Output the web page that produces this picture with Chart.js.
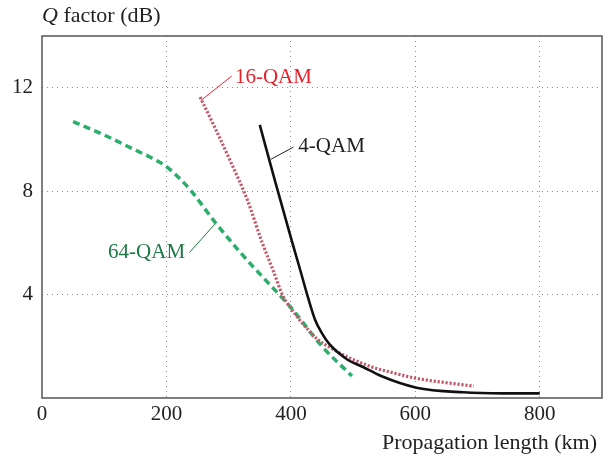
<!DOCTYPE html>
<html>
<head>
<meta charset="utf-8">
<script src="https://cdn.jsdelivr.net/npm/chart.js@4.4.1/dist/chart.umd.min.js"></script>
<style>
html,body{margin:0;padding:0;background:#fff;}
#wrap{width:612px;height:461px;}
</style>
</head>
<body>
<div id="wrap"><canvas id="c" width="612" height="461"></canvas></div>
<script>
// ---- data ----
const xTicks = [0, 200, 400, 600, 800];
const yTicks = [4, 8, 12];

const km4QAM = [350, 375, 400, 415, 427, 439, 450, 462, 490, 516, 545, 602, 677, 740, 800];
const q4QAM  = [10.56, 8.35, 6.2, 4.95, 3.93, 3.02, 2.5, 2.08, 1.5, 1.2, 0.85, 0.4, 0.22, 0.18, 0.18];

const km16QAM = [254, 278, 302, 330, 354, 372, 387, 399, 420, 444, 463, 490, 530, 560, 602, 650, 694];
const q16QAM  = [11.64, 10.45, 9.2, 7.66, 6.0, 4.9, 3.95, 3.5, 2.85, 2.24, 1.95, 1.6, 1.2, 1.0, 0.76, 0.59, 0.46];

const km64QAM = [50, 100, 150, 175, 200, 220, 240, 278, 318, 350, 385, 400, 450, 498];
const q64QAM  = [10.69, 10.17, 9.59, 9.3, 8.95, 8.52, 8.0, 6.8, 5.65, 4.8, 3.9, 3.5, 2.0, 0.85];

const seriesNames = ['4-QAM', '16-QAM', '64-QAM'];

function pts(xs, ys){ return xs.map((x,i)=>({x:x, y:ys[i]})); }

const serif = '"Liberation Serif", "Times New Roman", serif';
const FS = 21;

// annotation labels
const labels = [
  {text:'16-QAM', color:'#e8202a', tx:310, ty:12.38, align:'left',  x1:255, y1:11.5, x2:304.9, y2:12.45},
  {text:'4-QAM',  color:'#222222', tx:412, ty:9.72,  align:'left',  x1:367.6, y1:9.23, x2:404, y2:9.7},
  {text:'64-QAM', color:'#1d7a45', tx:230, ty:5.61,  align:'right', x1:278, y1:6.73, x2:236.8, y2:5.62}
];

const decor = {
  id:'decor',
  afterDraw(chart){
    const ctx = chart.ctx, a = chart.chartArea;
    const xs = chart.scales.x, ys = chart.scales.y;
    ctx.save();
    ctx.strokeStyle = '#555';
    ctx.lineWidth = 1.5;
    ctx.strokeRect(a.left, a.top, a.right - a.left, a.bottom - a.top);
    ctx.font = FS + 'px ' + serif;
    ctx.textBaseline = 'middle';
    labels.forEach(l=>{
      ctx.strokeStyle = l.color;
      ctx.lineWidth = 1;
      ctx.beginPath();
      ctx.moveTo(xs.getPixelForValue(l.x1), ys.getPixelForValue(l.y1));
      ctx.lineTo(xs.getPixelForValue(l.x2), ys.getPixelForValue(l.y2));
      ctx.stroke();
      ctx.fillStyle = l.color;
      ctx.textAlign = l.align;
      ctx.fillText(l.text, xs.getPixelForValue(l.tx), ys.getPixelForValue(l.ty));
    });
    ctx.fillStyle = '#222';
    ctx.font = '22px ' + serif;
    ctx.textAlign = 'right';
    ctx.fillText('Propagation length (km)', a.right - 5, 443);
    ctx.textAlign = 'left';
    ctx.font = 'italic 22px ' + serif;
    ctx.fillText('Q', a.left, 16);
    const w = ctx.measureText('Q').width;
    ctx.font = '22px ' + serif;
    ctx.fillText(' factor (dB)', a.left + w, 16);
    ctx.restore();
  }
};

new Chart(document.getElementById('c'), {
  type:'line',
  data:{
    datasets:[
      {label:seriesNames[0], data:pts(km4QAM,q4QAM), borderColor:'#111', borderWidth:2.6,
       pointRadius:0, cubicInterpolationMode:'monotone', fill:false},
      {label:seriesNames[1], data:pts(km16QAM,q16QAM), borderColor:'#c25a6c', borderWidth:3.2,
       borderDash:[2.2,1.8], pointRadius:0, cubicInterpolationMode:'monotone', fill:false},
      {label:seriesNames[2], data:pts(km64QAM,q64QAM), borderColor:'#2aae6a', borderWidth:3.5,
       borderDash:[7,4.5], pointRadius:0, cubicInterpolationMode:'monotone', fill:false}
    ]
  },
  options:{
    responsive:false,
    animation:false,
    devicePixelRatio:1,
    layout:{padding:{left:0, right:10, top:36, bottom:0}},
    plugins:{legend:{display:false}, tooltip:{enabled:false}, title:{display:false}},
    scales:{
      x:{
        type:'linear', min:0, max:900,
        afterBuildTicks(s){ s.ticks = xTicks.map(v=>({value:v})); },
        afterFit(s){ s.height = 63; },
        grid:{color:(c)=> (c.tick && c.tick.value>0 ? '#8a8a8a' : 'rgba(0,0,0,0)'), lineWidth:1, drawTicks:false},
        border:{display:false, dash:[1,4]},
        ticks:{font:{family:serif, size:FS}, color:'#222', padding:4, maxRotation:0}
      },
      y:{
        type:'linear', min:0, max:14,
        afterBuildTicks(s){ s.ticks = yTicks.map(v=>({value:v})); },
        afterFit(s){ s.width = 42; },
        grid:{color:'#8a8a8a', lineWidth:1, drawTicks:false},
        border:{display:false, dash:[1,4]},
        ticks:{font:{family:serif, size:FS}, color:'#222', padding:9}
      }
    }
  },
  plugins:[decor]
});
</script>
</body>
</html>
